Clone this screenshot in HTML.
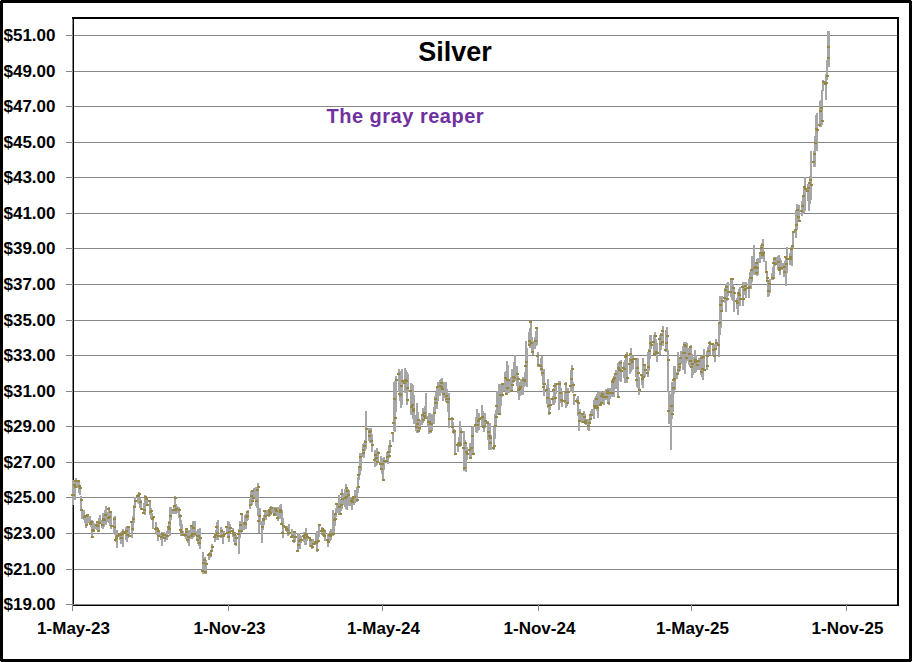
<!DOCTYPE html><html><head><meta charset="utf-8"><style>html,body{margin:0;padding:0;background:#fff;}svg{display:block;}text{font-family:"Liberation Sans",sans-serif;font-weight:bold;}</style></head><body>
<svg width="912" height="662" viewBox="0 0 912 662">
<rect x="0" y="0" width="912" height="662" fill="#fff"/>
<g shape-rendering="crispEdges" fill="#000">
<rect x="0" y="0" width="912" height="3"/><rect x="0" y="659" width="912" height="3"/><rect x="0" y="0" width="3" height="662"/><rect x="909" y="0" width="3" height="662"/>
</g>
<g shape-rendering="crispEdges" fill="#c4c4c4"><rect x="0" y="0" width="1" height="1"/><rect x="911" y="0" width="1" height="1"/><rect x="0" y="661" width="1" height="1"/><rect x="911" y="661" width="1" height="1"/></g>
<g shape-rendering="crispEdges" fill="#868686">
<rect x="66" y="569" width="831" height="1"/>
<rect x="66" y="533" width="831" height="1"/>
<rect x="66" y="497" width="831" height="1"/>
<rect x="66" y="462" width="831" height="1"/>
<rect x="66" y="426" width="831" height="1"/>
<rect x="66" y="391" width="831" height="1"/>
<rect x="66" y="355" width="831" height="1"/>
<rect x="66" y="320" width="831" height="1"/>
<rect x="66" y="284" width="831" height="1"/>
<rect x="66" y="248" width="831" height="1"/>
<rect x="66" y="213" width="831" height="1"/>
<rect x="66" y="177" width="831" height="1"/>
<rect x="66" y="142" width="831" height="1"/>
<rect x="66" y="106" width="831" height="1"/>
<rect x="66" y="71" width="831" height="1"/>
<rect x="66" y="35" width="831" height="1"/>
</g>
<g shape-rendering="crispEdges" fill="#000">
<rect x="72" y="17" width="827" height="2"/>
<rect x="897" y="17" width="2" height="589"/>
<rect x="73" y="17" width="1" height="589"/>
<rect x="72" y="605" width="827" height="1"/>
</g>
<g shape-rendering="crispEdges" fill="#868686">
<rect x="72" y="19" width="1" height="592"/>
<rect x="66" y="604" width="831" height="1"/>
<rect x="72" y="604" width="1" height="7"/>
<rect x="228" y="604" width="1" height="7"/>
<rect x="382" y="604" width="1" height="7"/>
<rect x="538" y="604" width="1" height="7"/>
<rect x="691" y="604" width="1" height="7"/>
<rect x="846" y="604" width="1" height="7"/>
</g>
<g fill="#a6a6a6" shape-rendering="crispEdges">
<rect x="72" y="480" width="2" height="25"/>
<rect x="72" y="486" width="2" height="11"/>
<rect x="73" y="483" width="2" height="15"/>
<rect x="74" y="481" width="2" height="19"/>
<rect x="75" y="478" width="2" height="10"/>
<rect x="77" y="480" width="2" height="8"/>
<rect x="78" y="480" width="2" height="13"/>
<rect x="79" y="487" width="2" height="8"/>
<rect x="80" y="496" width="2" height="15"/>
<rect x="81" y="509" width="2" height="10"/>
<rect x="83" y="510" width="2" height="10"/>
<rect x="84" y="516" width="2" height="7"/>
<rect x="85" y="517" width="2" height="11"/>
<rect x="86" y="514" width="2" height="12"/>
<rect x="87" y="515" width="2" height="8"/>
<rect x="89" y="516" width="2" height="8"/>
<rect x="90" y="520" width="2" height="7"/>
<rect x="91" y="520" width="2" height="18"/>
<rect x="92" y="521" width="2" height="10"/>
<rect x="93" y="523" width="2" height="9"/>
<rect x="95" y="524" width="2" height="5"/>
<rect x="96" y="523" width="2" height="7"/>
<rect x="97" y="521" width="2" height="8"/>
<rect x="98" y="518" width="2" height="14"/>
<rect x="99" y="515" width="2" height="9"/>
<rect x="101" y="520" width="2" height="8"/>
<rect x="102" y="513" width="2" height="16"/>
<rect x="103" y="514" width="2" height="13"/>
<rect x="104" y="510" width="2" height="12"/>
<rect x="105" y="506" width="2" height="19"/>
<rect x="107" y="512" width="2" height="10"/>
<rect x="108" y="507" width="2" height="16"/>
<rect x="109" y="514" width="2" height="12"/>
<rect x="110" y="511" width="2" height="17"/>
<rect x="110" y="516" width="2" height="13"/>
<rect x="113" y="517" width="2" height="17"/>
<rect x="114" y="516" width="2" height="19"/>
<rect x="115" y="531" width="2" height="11"/>
<rect x="116" y="535" width="2" height="13"/>
<rect x="116" y="530" width="2" height="14"/>
<rect x="119" y="533" width="2" height="7"/>
<rect x="120" y="532" width="2" height="12"/>
<rect x="121" y="531" width="2" height="9"/>
<rect x="122" y="530" width="2" height="14"/>
<rect x="122" y="529" width="2" height="18"/>
<rect x="125" y="527" width="2" height="13"/>
<rect x="126" y="526" width="2" height="16"/>
<rect x="127" y="526" width="2" height="10"/>
<rect x="127" y="526" width="2" height="12"/>
<rect x="128" y="528" width="2" height="8"/>
<rect x="131" y="521" width="2" height="17"/>
<rect x="132" y="516" width="2" height="15"/>
<rect x="133" y="511" width="2" height="12"/>
<rect x="133" y="505" width="2" height="10"/>
<rect x="134" y="497" width="2" height="9"/>
<rect x="137" y="494" width="2" height="9"/>
<rect x="138" y="494" width="2" height="10"/>
<rect x="138" y="492" width="2" height="12"/>
<rect x="139" y="498" width="2" height="10"/>
<rect x="140" y="500" width="2" height="9"/>
<rect x="143" y="503" width="2" height="10"/>
<rect x="144" y="495" width="2" height="16"/>
<rect x="144" y="495" width="2" height="20"/>
<rect x="145" y="496" width="2" height="10"/>
<rect x="146" y="497" width="2" height="9"/>
<rect x="149" y="500" width="2" height="8"/>
<rect x="149" y="503" width="2" height="12"/>
<rect x="150" y="508" width="2" height="11"/>
<rect x="151" y="513" width="2" height="6"/>
<rect x="152" y="517" width="2" height="12"/>
<rect x="155" y="522" width="2" height="9"/>
<rect x="155" y="525" width="2" height="8"/>
<rect x="156" y="529" width="2" height="6"/>
<rect x="157" y="531" width="2" height="10"/>
<rect x="158" y="531" width="2" height="6"/>
<rect x="160" y="533" width="2" height="7"/>
<rect x="161" y="532" width="2" height="14"/>
<rect x="162" y="532" width="2" height="7"/>
<rect x="163" y="532" width="2" height="6"/>
<rect x="164" y="533" width="2" height="9"/>
<rect x="166" y="531" width="2" height="9"/>
<rect x="167" y="526" width="2" height="7"/>
<rect x="168" y="521" width="2" height="10"/>
<rect x="169" y="507" width="2" height="29"/>
<rect x="170" y="507" width="2" height="13"/>
<rect x="172" y="509" width="2" height="5"/>
<rect x="173" y="505" width="2" height="9"/>
<rect x="174" y="496" width="2" height="18"/>
<rect x="175" y="504" width="2" height="10"/>
<rect x="176" y="506" width="2" height="7"/>
<rect x="178" y="507" width="2" height="11"/>
<rect x="179" y="514" width="2" height="12"/>
<rect x="180" y="520" width="2" height="16"/>
<rect x="181" y="524" width="2" height="12"/>
<rect x="182" y="531" width="2" height="5"/>
<rect x="184" y="533" width="2" height="4"/>
<rect x="185" y="530" width="2" height="9"/>
<rect x="186" y="528" width="2" height="12"/>
<rect x="187" y="533" width="2" height="10"/>
<rect x="188" y="530" width="2" height="16"/>
<rect x="190" y="526" width="2" height="13"/>
<rect x="191" y="525" width="2" height="14"/>
<rect x="192" y="521" width="2" height="17"/>
<rect x="193" y="523" width="2" height="14"/>
<rect x="194" y="521" width="2" height="15"/>
<rect x="196" y="531" width="2" height="10"/>
<rect x="197" y="529" width="2" height="15"/>
<rect x="198" y="536" width="2" height="10"/>
<rect x="199" y="533" width="2" height="11"/>
<rect x="199" y="528" width="2" height="21"/>
<rect x="202" y="552" width="2" height="22"/>
<rect x="203" y="558" width="2" height="16"/>
<rect x="204" y="557" width="2" height="17"/>
<rect x="205" y="561" width="2" height="13"/>
<rect x="205" y="560" width="2" height="10"/>
<rect x="208" y="553" width="2" height="7"/>
<rect x="209" y="552" width="2" height="6"/>
<rect x="210" y="553" width="2" height="4"/>
<rect x="210" y="551" width="2" height="5"/>
<rect x="211" y="544" width="2" height="6"/>
<rect x="214" y="533" width="2" height="9"/>
<rect x="215" y="530" width="2" height="10"/>
<rect x="216" y="526" width="2" height="10"/>
<rect x="216" y="522" width="2" height="16"/>
<rect x="217" y="520" width="2" height="20"/>
<rect x="220" y="527" width="2" height="11"/>
<rect x="221" y="529" width="2" height="7"/>
<rect x="221" y="531" width="2" height="7"/>
<rect x="222" y="531" width="2" height="13"/>
<rect x="223" y="531" width="2" height="4"/>
<rect x="226" y="527" width="2" height="7"/>
<rect x="227" y="524" width="2" height="11"/>
<rect x="227" y="521" width="2" height="16"/>
<rect x="228" y="522" width="2" height="20"/>
<rect x="229" y="524" width="2" height="8"/>
<rect x="232" y="529" width="2" height="5"/>
<rect x="232" y="528" width="2" height="9"/>
<rect x="233" y="535" width="2" height="7"/>
<rect x="234" y="532" width="2" height="12"/>
<rect x="235" y="535" width="2" height="11"/>
<rect x="238" y="530" width="2" height="22"/>
<rect x="238" y="529" width="2" height="25"/>
<rect x="239" y="521" width="2" height="17"/>
<rect x="240" y="522" width="2" height="11"/>
<rect x="241" y="513" width="2" height="19"/>
<rect x="243" y="522" width="2" height="8"/>
<rect x="244" y="515" width="2" height="13"/>
<rect x="245" y="514" width="2" height="15"/>
<rect x="246" y="512" width="2" height="9"/>
<rect x="247" y="510" width="2" height="10"/>
<rect x="249" y="499" width="2" height="10"/>
<rect x="250" y="491" width="2" height="10"/>
<rect x="251" y="492" width="2" height="13"/>
<rect x="252" y="490" width="2" height="11"/>
<rect x="253" y="488" width="2" height="11"/>
<rect x="255" y="487" width="2" height="19"/>
<rect x="256" y="489" width="2" height="19"/>
<rect x="257" y="483" width="2" height="33"/>
<rect x="258" y="509" width="2" height="24"/>
<rect x="259" y="508" width="2" height="17"/>
<rect x="261" y="521" width="2" height="22"/>
<rect x="262" y="518" width="2" height="12"/>
<rect x="263" y="515" width="2" height="10"/>
<rect x="264" y="510" width="2" height="10"/>
<rect x="265" y="510" width="2" height="10"/>
<rect x="267" y="510" width="2" height="5"/>
<rect x="268" y="509" width="2" height="8"/>
<rect x="269" y="507" width="2" height="9"/>
<rect x="270" y="506" width="2" height="9"/>
<rect x="271" y="507" width="2" height="6"/>
<rect x="273" y="507" width="2" height="9"/>
<rect x="274" y="507" width="2" height="8"/>
<rect x="275" y="507" width="2" height="6"/>
<rect x="276" y="507" width="2" height="9"/>
<rect x="277" y="507" width="2" height="14"/>
<rect x="279" y="505" width="2" height="14"/>
<rect x="280" y="504" width="2" height="15"/>
<rect x="281" y="510" width="2" height="15"/>
<rect x="282" y="518" width="2" height="20"/>
<rect x="282" y="521" width="2" height="15"/>
<rect x="285" y="526" width="2" height="5"/>
<rect x="286" y="527" width="2" height="5"/>
<rect x="287" y="526" width="2" height="10"/>
<rect x="288" y="525" width="2" height="9"/>
<rect x="288" y="524" width="2" height="11"/>
<rect x="291" y="529" width="2" height="9"/>
<rect x="292" y="531" width="2" height="7"/>
<rect x="293" y="531" width="2" height="12"/>
<rect x="293" y="532" width="2" height="6"/>
<rect x="294" y="532" width="2" height="10"/>
<rect x="297" y="533" width="2" height="19"/>
<rect x="298" y="533" width="2" height="13"/>
<rect x="299" y="539" width="2" height="10"/>
<rect x="299" y="535" width="2" height="11"/>
<rect x="300" y="536" width="2" height="7"/>
<rect x="303" y="532" width="2" height="10"/>
<rect x="304" y="532" width="2" height="11"/>
<rect x="304" y="533" width="2" height="12"/>
<rect x="305" y="528" width="2" height="17"/>
<rect x="306" y="534" width="2" height="7"/>
<rect x="309" y="538" width="2" height="9"/>
<rect x="310" y="539" width="2" height="4"/>
<rect x="310" y="539" width="2" height="8"/>
<rect x="311" y="539" width="2" height="10"/>
<rect x="312" y="539" width="2" height="6"/>
<rect x="315" y="537" width="2" height="8"/>
<rect x="315" y="534" width="2" height="11"/>
<rect x="316" y="531" width="2" height="21"/>
<rect x="317" y="531" width="2" height="12"/>
<rect x="318" y="525" width="2" height="12"/>
<rect x="321" y="527" width="2" height="7"/>
<rect x="321" y="528" width="2" height="7"/>
<rect x="322" y="528" width="2" height="8"/>
<rect x="323" y="529" width="2" height="8"/>
<rect x="324" y="530" width="2" height="11"/>
<rect x="327" y="533" width="2" height="8"/>
<rect x="327" y="534" width="2" height="13"/>
<rect x="328" y="533" width="2" height="7"/>
<rect x="329" y="531" width="2" height="10"/>
<rect x="330" y="529" width="2" height="11"/>
<rect x="332" y="510" width="2" height="26"/>
<rect x="333" y="514" width="2" height="19"/>
<rect x="334" y="516" width="2" height="10"/>
<rect x="335" y="508" width="2" height="9"/>
<rect x="336" y="503" width="2" height="10"/>
<rect x="338" y="495" width="2" height="20"/>
<rect x="339" y="499" width="2" height="16"/>
<rect x="340" y="499" width="2" height="12"/>
<rect x="341" y="489" width="2" height="20"/>
<rect x="342" y="493" width="2" height="12"/>
<rect x="344" y="489" width="2" height="18"/>
<rect x="345" y="484" width="2" height="25"/>
<rect x="346" y="496" width="2" height="14"/>
<rect x="347" y="489" width="2" height="14"/>
<rect x="348" y="490" width="2" height="16"/>
<rect x="350" y="497" width="2" height="9"/>
<rect x="351" y="499" width="2" height="11"/>
<rect x="352" y="497" width="2" height="6"/>
<rect x="353" y="496" width="2" height="9"/>
<rect x="354" y="490" width="2" height="13"/>
<rect x="356" y="487" width="2" height="15"/>
<rect x="357" y="477" width="2" height="16"/>
<rect x="358" y="468" width="2" height="12"/>
<rect x="359" y="453" width="2" height="22"/>
<rect x="360" y="453" width="2" height="18"/>
<rect x="362" y="444" width="2" height="13"/>
<rect x="363" y="443" width="2" height="15"/>
<rect x="364" y="440" width="2" height="11"/>
<rect x="365" y="434" width="2" height="13"/>
<rect x="365" y="411" width="2" height="38"/>
<rect x="368" y="428" width="2" height="13"/>
<rect x="369" y="434" width="2" height="9"/>
<rect x="370" y="428" width="2" height="13"/>
<rect x="371" y="434" width="2" height="14"/>
<rect x="371" y="441" width="2" height="11"/>
<rect x="374" y="450" width="2" height="17"/>
<rect x="375" y="454" width="2" height="12"/>
<rect x="376" y="454" width="2" height="11"/>
<rect x="376" y="448" width="2" height="16"/>
<rect x="377" y="451" width="2" height="11"/>
<rect x="380" y="456" width="2" height="14"/>
<rect x="381" y="463" width="2" height="11"/>
<rect x="382" y="459" width="2" height="18"/>
<rect x="382" y="458" width="2" height="22"/>
<rect x="383" y="457" width="2" height="13"/>
<rect x="386" y="452" width="2" height="11"/>
<rect x="387" y="456" width="2" height="8"/>
<rect x="387" y="451" width="2" height="10"/>
<rect x="388" y="445" width="2" height="13"/>
<rect x="389" y="440" width="2" height="13"/>
<rect x="392" y="432" width="2" height="10"/>
<rect x="393" y="417" width="2" height="14"/>
<rect x="393" y="382" width="2" height="38"/>
<rect x="394" y="381" width="2" height="51"/>
<rect x="395" y="376" width="2" height="36"/>
<rect x="398" y="369" width="2" height="23"/>
<rect x="399" y="371" width="2" height="24"/>
<rect x="399" y="381" width="2" height="20"/>
<rect x="400" y="382" width="2" height="26"/>
<rect x="401" y="369" width="2" height="36"/>
<rect x="404" y="377" width="2" height="16"/>
<rect x="404" y="368" width="2" height="18"/>
<rect x="405" y="370" width="2" height="18"/>
<rect x="406" y="372" width="2" height="33"/>
<rect x="407" y="374" width="2" height="18"/>
<rect x="410" y="383" width="2" height="16"/>
<rect x="410" y="385" width="2" height="30"/>
<rect x="411" y="384" width="2" height="28"/>
<rect x="412" y="385" width="2" height="34"/>
<rect x="413" y="395" width="2" height="29"/>
<rect x="415" y="415" width="2" height="16"/>
<rect x="416" y="403" width="2" height="30"/>
<rect x="417" y="412" width="2" height="21"/>
<rect x="418" y="419" width="2" height="10"/>
<rect x="419" y="420" width="2" height="10"/>
<rect x="421" y="415" width="2" height="10"/>
<rect x="422" y="408" width="2" height="15"/>
<rect x="423" y="409" width="2" height="12"/>
<rect x="424" y="406" width="2" height="13"/>
<rect x="425" y="393" width="2" height="26"/>
<rect x="427" y="416" width="2" height="11"/>
<rect x="428" y="413" width="2" height="21"/>
<rect x="429" y="413" width="2" height="14"/>
<rect x="430" y="415" width="2" height="18"/>
<rect x="431" y="414" width="2" height="17"/>
<rect x="433" y="407" width="2" height="17"/>
<rect x="434" y="396" width="2" height="16"/>
<rect x="435" y="392" width="2" height="15"/>
<rect x="436" y="388" width="2" height="21"/>
<rect x="437" y="382" width="2" height="19"/>
<rect x="439" y="380" width="2" height="16"/>
<rect x="440" y="379" width="2" height="14"/>
<rect x="441" y="378" width="2" height="14"/>
<rect x="442" y="383" width="2" height="18"/>
<rect x="443" y="382" width="2" height="16"/>
<rect x="445" y="382" width="2" height="20"/>
<rect x="446" y="389" width="2" height="13"/>
<rect x="447" y="394" width="2" height="18"/>
<rect x="448" y="393" width="2" height="35"/>
<rect x="448" y="415" width="2" height="13"/>
<rect x="451" y="417" width="2" height="11"/>
<rect x="452" y="422" width="2" height="9"/>
<rect x="453" y="429" width="2" height="5"/>
<rect x="454" y="431" width="2" height="9"/>
<rect x="454" y="437" width="2" height="18"/>
<rect x="457" y="442" width="2" height="10"/>
<rect x="458" y="437" width="2" height="10"/>
<rect x="459" y="421" width="2" height="26"/>
<rect x="460" y="428" width="2" height="18"/>
<rect x="460" y="429" width="2" height="14"/>
<rect x="463" y="431" width="2" height="40"/>
<rect x="464" y="440" width="2" height="31"/>
<rect x="465" y="443" width="2" height="25"/>
<rect x="465" y="451" width="2" height="21"/>
<rect x="466" y="447" width="2" height="13"/>
<rect x="469" y="443" width="2" height="15"/>
<rect x="470" y="443" width="2" height="16"/>
<rect x="471" y="437" width="2" height="14"/>
<rect x="471" y="427" width="2" height="17"/>
<rect x="472" y="426" width="2" height="28"/>
<rect x="475" y="417" width="2" height="15"/>
<rect x="476" y="416" width="2" height="17"/>
<rect x="476" y="409" width="2" height="24"/>
<rect x="477" y="415" width="2" height="16"/>
<rect x="478" y="413" width="2" height="17"/>
<rect x="481" y="405" width="2" height="21"/>
<rect x="482" y="411" width="2" height="16"/>
<rect x="482" y="416" width="2" height="11"/>
<rect x="483" y="413" width="2" height="19"/>
<rect x="484" y="413" width="2" height="15"/>
<rect x="487" y="421" width="2" height="15"/>
<rect x="487" y="427" width="2" height="13"/>
<rect x="488" y="427" width="2" height="23"/>
<rect x="489" y="423" width="2" height="27"/>
<rect x="490" y="435" width="2" height="15"/>
<rect x="493" y="437" width="2" height="13"/>
<rect x="493" y="427" width="2" height="20"/>
<rect x="494" y="414" width="2" height="25"/>
<rect x="495" y="410" width="2" height="17"/>
<rect x="496" y="391" width="2" height="24"/>
<rect x="498" y="384" width="2" height="30"/>
<rect x="499" y="384" width="2" height="30"/>
<rect x="500" y="384" width="2" height="22"/>
<rect x="501" y="384" width="2" height="13"/>
<rect x="502" y="383" width="2" height="8"/>
<rect x="504" y="372" width="2" height="19"/>
<rect x="505" y="371" width="2" height="23"/>
<rect x="506" y="361" width="2" height="33"/>
<rect x="507" y="365" width="2" height="28"/>
<rect x="508" y="379" width="2" height="14"/>
<rect x="510" y="377" width="2" height="15"/>
<rect x="511" y="369" width="2" height="23"/>
<rect x="512" y="372" width="2" height="11"/>
<rect x="513" y="362" width="2" height="15"/>
<rect x="514" y="355" width="2" height="26"/>
<rect x="516" y="366" width="2" height="20"/>
<rect x="517" y="376" width="2" height="17"/>
<rect x="518" y="385" width="2" height="15"/>
<rect x="519" y="382" width="2" height="14"/>
<rect x="520" y="379" width="2" height="16"/>
<rect x="522" y="377" width="2" height="18"/>
<rect x="523" y="379" width="2" height="8"/>
<rect x="524" y="372" width="2" height="14"/>
<rect x="525" y="341" width="2" height="41"/>
<rect x="526" y="348" width="2" height="39"/>
<rect x="528" y="332" width="2" height="13"/>
<rect x="529" y="328" width="2" height="20"/>
<rect x="530" y="321" width="2" height="27"/>
<rect x="531" y="337" width="2" height="16"/>
<rect x="532" y="341" width="2" height="14"/>
<rect x="534" y="337" width="2" height="12"/>
<rect x="535" y="331" width="2" height="15"/>
<rect x="536" y="328" width="2" height="17"/>
<rect x="537" y="352" width="2" height="15"/>
<rect x="537" y="355" width="2" height="12"/>
<rect x="540" y="358" width="2" height="13"/>
<rect x="541" y="356" width="2" height="20"/>
<rect x="542" y="371" width="2" height="14"/>
<rect x="543" y="381" width="2" height="13"/>
<rect x="543" y="369" width="2" height="27"/>
<rect x="546" y="385" width="2" height="19"/>
<rect x="547" y="379" width="2" height="29"/>
<rect x="548" y="397" width="2" height="18"/>
<rect x="548" y="388" width="2" height="25"/>
<rect x="549" y="398" width="2" height="12"/>
<rect x="552" y="396" width="2" height="9"/>
<rect x="553" y="388" width="2" height="17"/>
<rect x="554" y="383" width="2" height="20"/>
<rect x="554" y="383" width="2" height="20"/>
<rect x="555" y="383" width="2" height="11"/>
<rect x="558" y="381" width="2" height="29"/>
<rect x="559" y="381" width="2" height="19"/>
<rect x="559" y="385" width="2" height="15"/>
<rect x="560" y="388" width="2" height="15"/>
<rect x="561" y="391" width="2" height="16"/>
<rect x="564" y="392" width="2" height="11"/>
<rect x="565" y="382" width="2" height="26"/>
<rect x="565" y="392" width="2" height="16"/>
<rect x="566" y="392" width="2" height="14"/>
<rect x="567" y="388" width="2" height="14"/>
<rect x="570" y="370" width="2" height="22"/>
<rect x="570" y="372" width="2" height="20"/>
<rect x="571" y="365" width="2" height="26"/>
<rect x="572" y="382" width="2" height="11"/>
<rect x="573" y="394" width="2" height="11"/>
<rect x="576" y="398" width="2" height="3"/>
<rect x="576" y="398" width="2" height="5"/>
<rect x="577" y="396" width="2" height="20"/>
<rect x="578" y="413" width="2" height="18"/>
<rect x="579" y="409" width="2" height="11"/>
<rect x="581" y="414" width="2" height="9"/>
<rect x="582" y="415" width="2" height="7"/>
<rect x="583" y="411" width="2" height="10"/>
<rect x="584" y="414" width="2" height="9"/>
<rect x="585" y="419" width="2" height="6"/>
<rect x="587" y="419" width="2" height="11"/>
<rect x="588" y="420" width="2" height="11"/>
<rect x="589" y="415" width="2" height="7"/>
<rect x="590" y="411" width="2" height="9"/>
<rect x="591" y="409" width="2" height="7"/>
<rect x="593" y="400" width="2" height="19"/>
<rect x="594" y="398" width="2" height="11"/>
<rect x="595" y="396" width="2" height="12"/>
<rect x="596" y="394" width="2" height="17"/>
<rect x="597" y="392" width="2" height="26"/>
<rect x="599" y="391" width="2" height="15"/>
<rect x="600" y="391" width="2" height="9"/>
<rect x="601" y="392" width="2" height="11"/>
<rect x="602" y="392" width="2" height="7"/>
<rect x="603" y="391" width="2" height="14"/>
<rect x="605" y="389" width="2" height="11"/>
<rect x="606" y="389" width="2" height="10"/>
<rect x="607" y="388" width="2" height="15"/>
<rect x="608" y="388" width="2" height="17"/>
<rect x="609" y="388" width="2" height="11"/>
<rect x="611" y="380" width="2" height="17"/>
<rect x="612" y="378" width="2" height="17"/>
<rect x="613" y="376" width="2" height="21"/>
<rect x="614" y="373" width="2" height="13"/>
<rect x="615" y="370" width="2" height="19"/>
<rect x="617" y="363" width="2" height="35"/>
<rect x="618" y="362" width="2" height="19"/>
<rect x="619" y="361" width="2" height="16"/>
<rect x="620" y="360" width="2" height="22"/>
<rect x="620" y="360" width="2" height="20"/>
<rect x="623" y="362" width="2" height="16"/>
<rect x="624" y="360" width="2" height="23"/>
<rect x="625" y="356" width="2" height="15"/>
<rect x="626" y="352" width="2" height="29"/>
<rect x="626" y="356" width="2" height="27"/>
<rect x="629" y="358" width="2" height="16"/>
<rect x="630" y="348" width="2" height="24"/>
<rect x="631" y="358" width="2" height="12"/>
<rect x="631" y="359" width="2" height="10"/>
<rect x="632" y="356" width="2" height="13"/>
<rect x="635" y="358" width="2" height="19"/>
<rect x="636" y="367" width="2" height="20"/>
<rect x="637" y="358" width="2" height="30"/>
<rect x="637" y="371" width="2" height="13"/>
<rect x="638" y="377" width="2" height="18"/>
<rect x="641" y="374" width="2" height="11"/>
<rect x="642" y="376" width="2" height="12"/>
<rect x="642" y="358" width="2" height="23"/>
<rect x="643" y="364" width="2" height="13"/>
<rect x="644" y="365" width="2" height="12"/>
<rect x="647" y="352" width="2" height="25"/>
<rect x="648" y="353" width="2" height="18"/>
<rect x="648" y="349" width="2" height="15"/>
<rect x="649" y="335" width="2" height="24"/>
<rect x="650" y="335" width="2" height="14"/>
<rect x="653" y="335" width="2" height="19"/>
<rect x="653" y="337" width="2" height="18"/>
<rect x="654" y="332" width="2" height="19"/>
<rect x="655" y="339" width="2" height="13"/>
<rect x="656" y="343" width="2" height="19"/>
<rect x="659" y="337" width="2" height="10"/>
<rect x="659" y="335" width="2" height="20"/>
<rect x="660" y="333" width="2" height="17"/>
<rect x="661" y="335" width="2" height="10"/>
<rect x="662" y="326" width="2" height="20"/>
<rect x="665" y="330" width="2" height="22"/>
<rect x="665" y="333" width="2" height="17"/>
<rect x="666" y="327" width="2" height="25"/>
<rect x="667" y="350" width="2" height="42"/>
<rect x="668" y="392" width="2" height="32"/>
<rect x="670" y="394" width="2" height="56"/>
<rect x="671" y="382" width="2" height="37"/>
<rect x="672" y="385" width="2" height="27"/>
<rect x="673" y="366" width="2" height="28"/>
<rect x="674" y="366" width="2" height="24"/>
<rect x="676" y="372" width="2" height="7"/>
<rect x="677" y="352" width="2" height="23"/>
<rect x="678" y="359" width="2" height="13"/>
<rect x="679" y="359" width="2" height="12"/>
<rect x="680" y="351" width="2" height="13"/>
<rect x="682" y="346" width="2" height="24"/>
<rect x="683" y="342" width="2" height="27"/>
<rect x="684" y="342" width="2" height="32"/>
<rect x="685" y="342" width="2" height="21"/>
<rect x="686" y="343" width="2" height="18"/>
<rect x="688" y="348" width="2" height="17"/>
<rect x="689" y="348" width="2" height="19"/>
<rect x="690" y="345" width="2" height="23"/>
<rect x="691" y="354" width="2" height="24"/>
<rect x="692" y="357" width="2" height="18"/>
<rect x="694" y="350" width="2" height="23"/>
<rect x="695" y="355" width="2" height="17"/>
<rect x="696" y="360" width="2" height="10"/>
<rect x="697" y="362" width="2" height="8"/>
<rect x="698" y="358" width="2" height="12"/>
<rect x="700" y="356" width="2" height="19"/>
<rect x="701" y="358" width="2" height="19"/>
<rect x="702" y="364" width="2" height="16"/>
<rect x="703" y="349" width="2" height="19"/>
<rect x="703" y="354" width="2" height="17"/>
<rect x="706" y="351" width="2" height="19"/>
<rect x="707" y="347" width="2" height="10"/>
<rect x="708" y="345" width="2" height="7"/>
<rect x="709" y="341" width="2" height="14"/>
<rect x="709" y="341" width="2" height="10"/>
<rect x="712" y="343" width="2" height="12"/>
<rect x="713" y="344" width="2" height="9"/>
<rect x="714" y="345" width="2" height="17"/>
<rect x="714" y="344" width="2" height="15"/>
<rect x="715" y="339" width="2" height="11"/>
<rect x="718" y="322" width="2" height="35"/>
<rect x="719" y="296" width="2" height="39"/>
<rect x="720" y="298" width="2" height="30"/>
<rect x="720" y="296" width="2" height="18"/>
<rect x="721" y="296" width="2" height="15"/>
<rect x="724" y="288" width="2" height="15"/>
<rect x="725" y="285" width="2" height="27"/>
<rect x="725" y="284" width="2" height="28"/>
<rect x="726" y="283" width="2" height="18"/>
<rect x="727" y="282" width="2" height="14"/>
<rect x="730" y="279" width="2" height="18"/>
<rect x="731" y="278" width="2" height="22"/>
<rect x="731" y="278" width="2" height="20"/>
<rect x="732" y="285" width="2" height="16"/>
<rect x="733" y="289" width="2" height="23"/>
<rect x="736" y="298" width="2" height="11"/>
<rect x="737" y="296" width="2" height="19"/>
<rect x="737" y="292" width="2" height="18"/>
<rect x="738" y="289" width="2" height="17"/>
<rect x="739" y="287" width="2" height="19"/>
<rect x="742" y="283" width="2" height="23"/>
<rect x="742" y="282" width="2" height="20"/>
<rect x="743" y="283" width="2" height="12"/>
<rect x="744" y="282" width="2" height="10"/>
<rect x="745" y="282" width="2" height="16"/>
<rect x="748" y="281" width="2" height="17"/>
<rect x="748" y="279" width="2" height="11"/>
<rect x="749" y="272" width="2" height="16"/>
<rect x="750" y="270" width="2" height="19"/>
<rect x="751" y="256" width="2" height="26"/>
<rect x="753" y="245" width="2" height="30"/>
<rect x="754" y="264" width="2" height="11"/>
<rect x="755" y="262" width="2" height="13"/>
<rect x="756" y="259" width="2" height="17"/>
<rect x="757" y="258" width="2" height="17"/>
<rect x="759" y="253" width="2" height="10"/>
<rect x="760" y="245" width="2" height="14"/>
<rect x="761" y="243" width="2" height="13"/>
<rect x="762" y="239" width="2" height="20"/>
<rect x="763" y="251" width="2" height="11"/>
<rect x="765" y="261" width="2" height="12"/>
<rect x="766" y="271" width="2" height="9"/>
<rect x="767" y="280" width="2" height="17"/>
<rect x="768" y="280" width="2" height="16"/>
<rect x="769" y="279" width="2" height="14"/>
<rect x="771" y="273" width="2" height="7"/>
<rect x="772" y="267" width="2" height="13"/>
<rect x="773" y="257" width="2" height="21"/>
<rect x="774" y="259" width="2" height="7"/>
<rect x="775" y="257" width="2" height="8"/>
<rect x="777" y="256" width="2" height="14"/>
<rect x="778" y="255" width="2" height="14"/>
<rect x="779" y="258" width="2" height="17"/>
<rect x="780" y="260" width="2" height="10"/>
<rect x="781" y="263" width="2" height="7"/>
<rect x="783" y="263" width="2" height="14"/>
<rect x="784" y="261" width="2" height="13"/>
<rect x="785" y="256" width="2" height="30"/>
<rect x="786" y="247" width="2" height="24"/>
<rect x="786" y="249" width="2" height="24"/>
<rect x="789" y="253" width="2" height="12"/>
<rect x="790" y="247" width="2" height="10"/>
<rect x="791" y="246" width="2" height="20"/>
<rect x="792" y="235" width="2" height="14"/>
<rect x="792" y="231" width="2" height="18"/>
<rect x="795" y="210" width="2" height="28"/>
<rect x="796" y="204" width="2" height="26"/>
<rect x="797" y="206" width="2" height="16"/>
<rect x="797" y="211" width="2" height="11"/>
<rect x="798" y="205" width="2" height="17"/>
<rect x="801" y="201" width="2" height="15"/>
<rect x="802" y="197" width="2" height="17"/>
<rect x="803" y="190" width="2" height="23"/>
<rect x="803" y="186" width="2" height="25"/>
<rect x="804" y="177" width="2" height="34"/>
<rect x="807" y="184" width="2" height="17"/>
<rect x="808" y="182" width="2" height="29"/>
<rect x="809" y="176" width="2" height="23"/>
<rect x="809" y="176" width="2" height="28"/>
<rect x="810" y="151" width="2" height="49"/>
<rect x="813" y="151" width="2" height="16"/>
<rect x="814" y="151" width="2" height="14"/>
<rect x="814" y="136" width="2" height="31"/>
<rect x="815" y="115" width="2" height="28"/>
<rect x="816" y="113" width="2" height="38"/>
<rect x="819" y="101" width="2" height="26"/>
<rect x="820" y="102" width="2" height="25"/>
<rect x="820" y="100" width="2" height="26"/>
<rect x="821" y="90" width="2" height="35"/>
<rect x="822" y="80" width="2" height="11"/>
<rect x="825" y="74" width="2" height="17"/>
<rect x="825" y="74" width="2" height="26"/>
<rect x="826" y="60" width="2" height="20"/>
<rect x="827" y="31" width="2" height="29"/>
<rect x="828" y="31" width="2" height="36"/>
</g>
<g fill="#968843" shape-rendering="crispEdges">
<rect x="71" y="494" width="3" height="2"/>
<rect x="72" y="494" width="3" height="2"/>
<rect x="73" y="484" width="3" height="2"/>
<rect x="74" y="486" width="3" height="2"/>
<rect x="74" y="480" width="3" height="2"/>
<rect x="77" y="480" width="3" height="2"/>
<rect x="78" y="485" width="3" height="2"/>
<rect x="79" y="487" width="3" height="2"/>
<rect x="80" y="499" width="3" height="2"/>
<rect x="80" y="509" width="3" height="2"/>
<rect x="83" y="516" width="3" height="2"/>
<rect x="84" y="515" width="3" height="2"/>
<rect x="85" y="524" width="3" height="2"/>
<rect x="85" y="515" width="3" height="2"/>
<rect x="86" y="514" width="3" height="2"/>
<rect x="89" y="523" width="3" height="2"/>
<rect x="90" y="521" width="3" height="2"/>
<rect x="91" y="536" width="3" height="2"/>
<rect x="91" y="529" width="3" height="2"/>
<rect x="92" y="530" width="3" height="2"/>
<rect x="95" y="524" width="3" height="2"/>
<rect x="96" y="525" width="3" height="2"/>
<rect x="96" y="521" width="3" height="2"/>
<rect x="97" y="530" width="3" height="2"/>
<rect x="98" y="522" width="3" height="2"/>
<rect x="101" y="524" width="3" height="2"/>
<rect x="102" y="519" width="3" height="2"/>
<rect x="102" y="518" width="3" height="2"/>
<rect x="103" y="519" width="3" height="2"/>
<rect x="104" y="514" width="3" height="2"/>
<rect x="107" y="517" width="3" height="2"/>
<rect x="107" y="508" width="3" height="2"/>
<rect x="108" y="516" width="3" height="2"/>
<rect x="109" y="511" width="3" height="2"/>
<rect x="110" y="525" width="3" height="2"/>
<rect x="113" y="526" width="3" height="2"/>
<rect x="113" y="518" width="3" height="2"/>
<rect x="114" y="539" width="3" height="2"/>
<rect x="115" y="537" width="3" height="2"/>
<rect x="116" y="535" width="3" height="2"/>
<rect x="118" y="533" width="3" height="2"/>
<rect x="119" y="534" width="3" height="2"/>
<rect x="120" y="537" width="3" height="2"/>
<rect x="121" y="533" width="3" height="2"/>
<rect x="122" y="531" width="3" height="2"/>
<rect x="124" y="532" width="3" height="2"/>
<rect x="125" y="530" width="3" height="2"/>
<rect x="126" y="534" width="3" height="2"/>
<rect x="127" y="526" width="3" height="2"/>
<rect x="128" y="535" width="3" height="2"/>
<rect x="130" y="521" width="3" height="2"/>
<rect x="131" y="528" width="3" height="2"/>
<rect x="132" y="518" width="3" height="2"/>
<rect x="133" y="506" width="3" height="2"/>
<rect x="134" y="500" width="3" height="2"/>
<rect x="136" y="495" width="3" height="2"/>
<rect x="137" y="495" width="3" height="2"/>
<rect x="138" y="493" width="3" height="2"/>
<rect x="139" y="501" width="3" height="2"/>
<rect x="140" y="508" width="3" height="2"/>
<rect x="142" y="512" width="3" height="2"/>
<rect x="143" y="509" width="3" height="2"/>
<rect x="144" y="496" width="3" height="2"/>
<rect x="145" y="498" width="3" height="2"/>
<rect x="146" y="504" width="3" height="2"/>
<rect x="148" y="500" width="3" height="2"/>
<rect x="149" y="511" width="3" height="2"/>
<rect x="150" y="510" width="3" height="2"/>
<rect x="151" y="518" width="3" height="2"/>
<rect x="152" y="516" width="3" height="2"/>
<rect x="154" y="528" width="3" height="2"/>
<rect x="155" y="527" width="3" height="2"/>
<rect x="156" y="528" width="3" height="2"/>
<rect x="157" y="530" width="3" height="2"/>
<rect x="157" y="535" width="3" height="2"/>
<rect x="160" y="536" width="3" height="2"/>
<rect x="161" y="533" width="3" height="2"/>
<rect x="162" y="534" width="3" height="2"/>
<rect x="163" y="537" width="3" height="2"/>
<rect x="163" y="534" width="3" height="2"/>
<rect x="166" y="535" width="3" height="2"/>
<rect x="167" y="526" width="3" height="2"/>
<rect x="168" y="522" width="3" height="2"/>
<rect x="168" y="528" width="3" height="2"/>
<rect x="169" y="515" width="3" height="2"/>
<rect x="172" y="509" width="3" height="2"/>
<rect x="173" y="505" width="3" height="2"/>
<rect x="174" y="497" width="3" height="2"/>
<rect x="174" y="509" width="3" height="2"/>
<rect x="175" y="508" width="3" height="2"/>
<rect x="178" y="509" width="3" height="2"/>
<rect x="179" y="515" width="3" height="2"/>
<rect x="179" y="529" width="3" height="2"/>
<rect x="180" y="531" width="3" height="2"/>
<rect x="181" y="534" width="3" height="2"/>
<rect x="184" y="534" width="3" height="2"/>
<rect x="185" y="531" width="3" height="2"/>
<rect x="185" y="528" width="3" height="2"/>
<rect x="186" y="539" width="3" height="2"/>
<rect x="187" y="536" width="3" height="2"/>
<rect x="190" y="535" width="3" height="2"/>
<rect x="190" y="525" width="3" height="2"/>
<rect x="191" y="533" width="3" height="2"/>
<rect x="192" y="527" width="3" height="2"/>
<rect x="193" y="533" width="3" height="2"/>
<rect x="196" y="539" width="3" height="2"/>
<rect x="196" y="535" width="3" height="2"/>
<rect x="197" y="535" width="3" height="2"/>
<rect x="198" y="542" width="3" height="2"/>
<rect x="199" y="537" width="3" height="2"/>
<rect x="201" y="570" width="3" height="2"/>
<rect x="202" y="562" width="3" height="2"/>
<rect x="203" y="559" width="3" height="2"/>
<rect x="204" y="571" width="3" height="2"/>
<rect x="205" y="563" width="3" height="2"/>
<rect x="207" y="554" width="3" height="2"/>
<rect x="208" y="553" width="3" height="2"/>
<rect x="209" y="554" width="3" height="2"/>
<rect x="210" y="550" width="3" height="2"/>
<rect x="211" y="546" width="3" height="2"/>
<rect x="213" y="536" width="3" height="2"/>
<rect x="214" y="534" width="3" height="2"/>
<rect x="215" y="526" width="3" height="2"/>
<rect x="216" y="532" width="3" height="2"/>
<rect x="217" y="535" width="3" height="2"/>
<rect x="219" y="535" width="3" height="2"/>
<rect x="220" y="530" width="3" height="2"/>
<rect x="221" y="535" width="3" height="2"/>
<rect x="222" y="535" width="3" height="2"/>
<rect x="223" y="533" width="3" height="2"/>
<rect x="225" y="526" width="3" height="2"/>
<rect x="226" y="532" width="3" height="2"/>
<rect x="227" y="536" width="3" height="2"/>
<rect x="228" y="531" width="3" height="2"/>
<rect x="229" y="527" width="3" height="2"/>
<rect x="231" y="530" width="3" height="2"/>
<rect x="232" y="532" width="3" height="2"/>
<rect x="233" y="534" width="3" height="2"/>
<rect x="234" y="543" width="3" height="2"/>
<rect x="235" y="537" width="3" height="2"/>
<rect x="237" y="533" width="3" height="2"/>
<rect x="238" y="530" width="3" height="2"/>
<rect x="239" y="524" width="3" height="2"/>
<rect x="240" y="530" width="3" height="2"/>
<rect x="240" y="513" width="3" height="2"/>
<rect x="243" y="522" width="3" height="2"/>
<rect x="244" y="523" width="3" height="2"/>
<rect x="245" y="516" width="3" height="2"/>
<rect x="246" y="511" width="3" height="2"/>
<rect x="246" y="515" width="3" height="2"/>
<rect x="249" y="504" width="3" height="2"/>
<rect x="250" y="495" width="3" height="2"/>
<rect x="251" y="500" width="3" height="2"/>
<rect x="251" y="490" width="3" height="2"/>
<rect x="252" y="497" width="3" height="2"/>
<rect x="255" y="500" width="3" height="2"/>
<rect x="256" y="489" width="3" height="2"/>
<rect x="257" y="486" width="3" height="2"/>
<rect x="257" y="520" width="3" height="2"/>
<rect x="258" y="515" width="3" height="2"/>
<rect x="261" y="526" width="3" height="2"/>
<rect x="262" y="519" width="3" height="2"/>
<rect x="262" y="518" width="3" height="2"/>
<rect x="263" y="510" width="3" height="2"/>
<rect x="264" y="515" width="3" height="2"/>
<rect x="267" y="514" width="3" height="2"/>
<rect x="268" y="509" width="3" height="2"/>
<rect x="268" y="511" width="3" height="2"/>
<rect x="269" y="512" width="3" height="2"/>
<rect x="270" y="507" width="3" height="2"/>
<rect x="273" y="513" width="3" height="2"/>
<rect x="273" y="514" width="3" height="2"/>
<rect x="274" y="508" width="3" height="2"/>
<rect x="275" y="510" width="3" height="2"/>
<rect x="276" y="517" width="3" height="2"/>
<rect x="279" y="511" width="3" height="2"/>
<rect x="279" y="509" width="3" height="2"/>
<rect x="280" y="523" width="3" height="2"/>
<rect x="281" y="532" width="3" height="2"/>
<rect x="282" y="525" width="3" height="2"/>
<rect x="284" y="526" width="3" height="2"/>
<rect x="285" y="528" width="3" height="2"/>
<rect x="286" y="529" width="3" height="2"/>
<rect x="287" y="532" width="3" height="2"/>
<rect x="288" y="532" width="3" height="2"/>
<rect x="290" y="536" width="3" height="2"/>
<rect x="291" y="535" width="3" height="2"/>
<rect x="292" y="540" width="3" height="2"/>
<rect x="293" y="531" width="3" height="2"/>
<rect x="294" y="536" width="3" height="2"/>
<rect x="296" y="550" width="3" height="2"/>
<rect x="297" y="544" width="3" height="2"/>
<rect x="298" y="540" width="3" height="2"/>
<rect x="299" y="539" width="3" height="2"/>
<rect x="300" y="539" width="3" height="2"/>
<rect x="302" y="535" width="3" height="2"/>
<rect x="303" y="537" width="3" height="2"/>
<rect x="304" y="533" width="3" height="2"/>
<rect x="305" y="534" width="3" height="2"/>
<rect x="306" y="536" width="3" height="2"/>
<rect x="308" y="537" width="3" height="2"/>
<rect x="309" y="539" width="3" height="2"/>
<rect x="310" y="545" width="3" height="2"/>
<rect x="311" y="546" width="3" height="2"/>
<rect x="312" y="543" width="3" height="2"/>
<rect x="314" y="541" width="3" height="2"/>
<rect x="315" y="542" width="3" height="2"/>
<rect x="316" y="549" width="3" height="2"/>
<rect x="317" y="540" width="3" height="2"/>
<rect x="318" y="524" width="3" height="2"/>
<rect x="320" y="530" width="3" height="2"/>
<rect x="321" y="528" width="3" height="2"/>
<rect x="322" y="533" width="3" height="2"/>
<rect x="323" y="530" width="3" height="2"/>
<rect x="323" y="535" width="3" height="2"/>
<rect x="326" y="539" width="3" height="2"/>
<rect x="327" y="541" width="3" height="2"/>
<rect x="328" y="534" width="3" height="2"/>
<rect x="329" y="535" width="3" height="2"/>
<rect x="329" y="533" width="3" height="2"/>
<rect x="332" y="533" width="3" height="2"/>
<rect x="333" y="519" width="3" height="2"/>
<rect x="334" y="518" width="3" height="2"/>
<rect x="334" y="513" width="3" height="2"/>
<rect x="335" y="503" width="3" height="2"/>
<rect x="338" y="506" width="3" height="2"/>
<rect x="339" y="513" width="3" height="2"/>
<rect x="340" y="504" width="3" height="2"/>
<rect x="340" y="493" width="3" height="2"/>
<rect x="341" y="498" width="3" height="2"/>
<rect x="344" y="497" width="3" height="2"/>
<rect x="345" y="487" width="3" height="2"/>
<rect x="345" y="496" width="3" height="2"/>
<rect x="346" y="490" width="3" height="2"/>
<rect x="347" y="494" width="3" height="2"/>
<rect x="350" y="500" width="3" height="2"/>
<rect x="351" y="501" width="3" height="2"/>
<rect x="351" y="498" width="3" height="2"/>
<rect x="352" y="496" width="3" height="2"/>
<rect x="353" y="496" width="3" height="2"/>
<rect x="356" y="499" width="3" height="2"/>
<rect x="357" y="486" width="3" height="2"/>
<rect x="357" y="474" width="3" height="2"/>
<rect x="358" y="466" width="3" height="2"/>
<rect x="359" y="456" width="3" height="2"/>
<rect x="362" y="452" width="3" height="2"/>
<rect x="362" y="449" width="3" height="2"/>
<rect x="363" y="445" width="3" height="2"/>
<rect x="364" y="441" width="3" height="2"/>
<rect x="365" y="428" width="3" height="2"/>
<rect x="368" y="431" width="3" height="2"/>
<rect x="368" y="435" width="3" height="2"/>
<rect x="369" y="430" width="3" height="2"/>
<rect x="370" y="440" width="3" height="2"/>
<rect x="371" y="444" width="3" height="2"/>
<rect x="373" y="459" width="3" height="2"/>
<rect x="374" y="454" width="3" height="2"/>
<rect x="375" y="457" width="3" height="2"/>
<rect x="376" y="461" width="3" height="2"/>
<rect x="377" y="452" width="3" height="2"/>
<rect x="379" y="463" width="3" height="2"/>
<rect x="380" y="468" width="3" height="2"/>
<rect x="381" y="463" width="3" height="2"/>
<rect x="382" y="479" width="3" height="2"/>
<rect x="383" y="460" width="3" height="2"/>
<rect x="385" y="460" width="3" height="2"/>
<rect x="386" y="456" width="3" height="2"/>
<rect x="387" y="451" width="3" height="2"/>
<rect x="388" y="455" width="3" height="2"/>
<rect x="389" y="445" width="3" height="2"/>
<rect x="391" y="432" width="3" height="2"/>
<rect x="392" y="422" width="3" height="2"/>
<rect x="393" y="398" width="3" height="2"/>
<rect x="394" y="417" width="3" height="2"/>
<rect x="395" y="379" width="3" height="2"/>
<rect x="397" y="373" width="3" height="2"/>
<rect x="398" y="393" width="3" height="2"/>
<rect x="399" y="394" width="3" height="2"/>
<rect x="400" y="385" width="3" height="2"/>
<rect x="401" y="380" width="3" height="2"/>
<rect x="403" y="382" width="3" height="2"/>
<rect x="404" y="379" width="3" height="2"/>
<rect x="405" y="380" width="3" height="2"/>
<rect x="406" y="399" width="3" height="2"/>
<rect x="406" y="387" width="3" height="2"/>
<rect x="409" y="390" width="3" height="2"/>
<rect x="410" y="406" width="3" height="2"/>
<rect x="411" y="404" width="3" height="2"/>
<rect x="412" y="410" width="3" height="2"/>
<rect x="412" y="408" width="3" height="2"/>
<rect x="415" y="426" width="3" height="2"/>
<rect x="416" y="423" width="3" height="2"/>
<rect x="417" y="430" width="3" height="2"/>
<rect x="417" y="419" width="3" height="2"/>
<rect x="418" y="427" width="3" height="2"/>
<rect x="421" y="414" width="3" height="2"/>
<rect x="422" y="419" width="3" height="2"/>
<rect x="423" y="415" width="3" height="2"/>
<rect x="423" y="412" width="3" height="2"/>
<rect x="424" y="417" width="3" height="2"/>
<rect x="427" y="421" width="3" height="2"/>
<rect x="428" y="421" width="3" height="2"/>
<rect x="429" y="423" width="3" height="2"/>
<rect x="429" y="430" width="3" height="2"/>
<rect x="430" y="423" width="3" height="2"/>
<rect x="433" y="412" width="3" height="2"/>
<rect x="434" y="402" width="3" height="2"/>
<rect x="434" y="398" width="3" height="2"/>
<rect x="435" y="402" width="3" height="2"/>
<rect x="436" y="386" width="3" height="2"/>
<rect x="439" y="385" width="3" height="2"/>
<rect x="440" y="386" width="3" height="2"/>
<rect x="440" y="382" width="3" height="2"/>
<rect x="441" y="388" width="3" height="2"/>
<rect x="442" y="393" width="3" height="2"/>
<rect x="445" y="398" width="3" height="2"/>
<rect x="445" y="395" width="3" height="2"/>
<rect x="446" y="401" width="3" height="2"/>
<rect x="447" y="398" width="3" height="2"/>
<rect x="448" y="418" width="3" height="2"/>
<rect x="451" y="418" width="3" height="2"/>
<rect x="451" y="426" width="3" height="2"/>
<rect x="452" y="431" width="3" height="2"/>
<rect x="453" y="430" width="3" height="2"/>
<rect x="454" y="453" width="3" height="2"/>
<rect x="456" y="444" width="3" height="2"/>
<rect x="457" y="444" width="3" height="2"/>
<rect x="458" y="442" width="3" height="2"/>
<rect x="459" y="444" width="3" height="2"/>
<rect x="460" y="431" width="3" height="2"/>
<rect x="462" y="447" width="3" height="2"/>
<rect x="463" y="467" width="3" height="2"/>
<rect x="464" y="442" width="3" height="2"/>
<rect x="465" y="451" width="3" height="2"/>
<rect x="466" y="453" width="3" height="2"/>
<rect x="468" y="449" width="3" height="2"/>
<rect x="469" y="457" width="3" height="2"/>
<rect x="470" y="447" width="3" height="2"/>
<rect x="471" y="435" width="3" height="2"/>
<rect x="472" y="453" width="3" height="2"/>
<rect x="474" y="424" width="3" height="2"/>
<rect x="475" y="424" width="3" height="2"/>
<rect x="476" y="424" width="3" height="2"/>
<rect x="477" y="420" width="3" height="2"/>
<rect x="478" y="418" width="3" height="2"/>
<rect x="480" y="417" width="3" height="2"/>
<rect x="481" y="416" width="3" height="2"/>
<rect x="482" y="426" width="3" height="2"/>
<rect x="483" y="425" width="3" height="2"/>
<rect x="484" y="420" width="3" height="2"/>
<rect x="486" y="422" width="3" height="2"/>
<rect x="487" y="431" width="3" height="2"/>
<rect x="488" y="435" width="3" height="2"/>
<rect x="489" y="437" width="3" height="2"/>
<rect x="489" y="442" width="3" height="2"/>
<rect x="492" y="447" width="3" height="2"/>
<rect x="493" y="445" width="3" height="2"/>
<rect x="494" y="425" width="3" height="2"/>
<rect x="495" y="416" width="3" height="2"/>
<rect x="495" y="405" width="3" height="2"/>
<rect x="498" y="413" width="3" height="2"/>
<rect x="499" y="394" width="3" height="2"/>
<rect x="500" y="394" width="3" height="2"/>
<rect x="501" y="394" width="3" height="2"/>
<rect x="501" y="383" width="3" height="2"/>
<rect x="504" y="377" width="3" height="2"/>
<rect x="505" y="393" width="3" height="2"/>
<rect x="506" y="387" width="3" height="2"/>
<rect x="506" y="379" width="3" height="2"/>
<rect x="507" y="379" width="3" height="2"/>
<rect x="510" y="390" width="3" height="2"/>
<rect x="511" y="384" width="3" height="2"/>
<rect x="512" y="380" width="3" height="2"/>
<rect x="512" y="376" width="3" height="2"/>
<rect x="513" y="377" width="3" height="2"/>
<rect x="516" y="373" width="3" height="2"/>
<rect x="517" y="378" width="3" height="2"/>
<rect x="517" y="389" width="3" height="2"/>
<rect x="518" y="388" width="3" height="2"/>
<rect x="519" y="386" width="3" height="2"/>
<rect x="522" y="379" width="3" height="2"/>
<rect x="523" y="379" width="3" height="2"/>
<rect x="523" y="380" width="3" height="2"/>
<rect x="524" y="365" width="3" height="2"/>
<rect x="525" y="361" width="3" height="2"/>
<rect x="528" y="344" width="3" height="2"/>
<rect x="528" y="340" width="3" height="2"/>
<rect x="529" y="321" width="3" height="2"/>
<rect x="530" y="342" width="3" height="2"/>
<rect x="531" y="351" width="3" height="2"/>
<rect x="534" y="340" width="3" height="2"/>
<rect x="534" y="340" width="3" height="2"/>
<rect x="535" y="327" width="3" height="2"/>
<rect x="536" y="355" width="3" height="2"/>
<rect x="537" y="364" width="3" height="2"/>
<rect x="539" y="365" width="3" height="2"/>
<rect x="540" y="368" width="3" height="2"/>
<rect x="541" y="372" width="3" height="2"/>
<rect x="542" y="386" width="3" height="2"/>
<rect x="543" y="383" width="3" height="2"/>
<rect x="545" y="389" width="3" height="2"/>
<rect x="546" y="397" width="3" height="2"/>
<rect x="547" y="405" width="3" height="2"/>
<rect x="548" y="412" width="3" height="2"/>
<rect x="549" y="404" width="3" height="2"/>
<rect x="551" y="398" width="3" height="2"/>
<rect x="552" y="389" width="3" height="2"/>
<rect x="553" y="385" width="3" height="2"/>
<rect x="554" y="397" width="3" height="2"/>
<rect x="555" y="383" width="3" height="2"/>
<rect x="557" y="383" width="3" height="2"/>
<rect x="558" y="383" width="3" height="2"/>
<rect x="559" y="392" width="3" height="2"/>
<rect x="560" y="399" width="3" height="2"/>
<rect x="561" y="400" width="3" height="2"/>
<rect x="563" y="400" width="3" height="2"/>
<rect x="564" y="383" width="3" height="2"/>
<rect x="565" y="391" width="3" height="2"/>
<rect x="566" y="402" width="3" height="2"/>
<rect x="567" y="391" width="3" height="2"/>
<rect x="569" y="385" width="3" height="2"/>
<rect x="570" y="378" width="3" height="2"/>
<rect x="571" y="368" width="3" height="2"/>
<rect x="572" y="384" width="3" height="2"/>
<rect x="573" y="394" width="3" height="2"/>
<rect x="575" y="400" width="3" height="2"/>
<rect x="576" y="400" width="3" height="2"/>
<rect x="577" y="402" width="3" height="2"/>
<rect x="578" y="420" width="3" height="2"/>
<rect x="578" y="412" width="3" height="2"/>
<rect x="581" y="413" width="3" height="2"/>
<rect x="582" y="421" width="3" height="2"/>
<rect x="583" y="416" width="3" height="2"/>
<rect x="584" y="422" width="3" height="2"/>
<rect x="584" y="420" width="3" height="2"/>
<rect x="587" y="425" width="3" height="2"/>
<rect x="588" y="422" width="3" height="2"/>
<rect x="589" y="414" width="3" height="2"/>
<rect x="589" y="418" width="3" height="2"/>
<rect x="590" y="414" width="3" height="2"/>
<rect x="593" y="405" width="3" height="2"/>
<rect x="594" y="407" width="3" height="2"/>
<rect x="595" y="405" width="3" height="2"/>
<rect x="595" y="398" width="3" height="2"/>
<rect x="596" y="407" width="3" height="2"/>
<rect x="599" y="404" width="3" height="2"/>
<rect x="600" y="395" width="3" height="2"/>
<rect x="600" y="402" width="3" height="2"/>
<rect x="601" y="393" width="3" height="2"/>
<rect x="602" y="396" width="3" height="2"/>
<rect x="605" y="396" width="3" height="2"/>
<rect x="606" y="390" width="3" height="2"/>
<rect x="606" y="392" width="3" height="2"/>
<rect x="607" y="402" width="3" height="2"/>
<rect x="608" y="392" width="3" height="2"/>
<rect x="611" y="392" width="3" height="2"/>
<rect x="611" y="381" width="3" height="2"/>
<rect x="612" y="379" width="3" height="2"/>
<rect x="613" y="377" width="3" height="2"/>
<rect x="614" y="373" width="3" height="2"/>
<rect x="617" y="396" width="3" height="2"/>
<rect x="617" y="367" width="3" height="2"/>
<rect x="618" y="369" width="3" height="2"/>
<rect x="619" y="362" width="3" height="2"/>
<rect x="620" y="370" width="3" height="2"/>
<rect x="622" y="367" width="3" height="2"/>
<rect x="623" y="368" width="3" height="2"/>
<rect x="624" y="356" width="3" height="2"/>
<rect x="625" y="354" width="3" height="2"/>
<rect x="626" y="377" width="3" height="2"/>
<rect x="628" y="363" width="3" height="2"/>
<rect x="629" y="353" width="3" height="2"/>
<rect x="630" y="359" width="3" height="2"/>
<rect x="631" y="361" width="3" height="2"/>
<rect x="632" y="358" width="3" height="2"/>
<rect x="634" y="358" width="3" height="2"/>
<rect x="635" y="379" width="3" height="2"/>
<rect x="636" y="367" width="3" height="2"/>
<rect x="637" y="372" width="3" height="2"/>
<rect x="638" y="389" width="3" height="2"/>
<rect x="640" y="374" width="3" height="2"/>
<rect x="641" y="378" width="3" height="2"/>
<rect x="642" y="376" width="3" height="2"/>
<rect x="643" y="364" width="3" height="2"/>
<rect x="644" y="369" width="3" height="2"/>
<rect x="646" y="372" width="3" height="2"/>
<rect x="647" y="366" width="3" height="2"/>
<rect x="648" y="350" width="3" height="2"/>
<rect x="649" y="342" width="3" height="2"/>
<rect x="650" y="344" width="3" height="2"/>
<rect x="652" y="341" width="3" height="2"/>
<rect x="653" y="353" width="3" height="2"/>
<rect x="654" y="335" width="3" height="2"/>
<rect x="655" y="351" width="3" height="2"/>
<rect x="656" y="352" width="3" height="2"/>
<rect x="658" y="338" width="3" height="2"/>
<rect x="659" y="343" width="3" height="2"/>
<rect x="660" y="334" width="3" height="2"/>
<rect x="661" y="341" width="3" height="2"/>
<rect x="661" y="330" width="3" height="2"/>
<rect x="664" y="349" width="3" height="2"/>
<rect x="665" y="342" width="3" height="2"/>
<rect x="666" y="335" width="3" height="2"/>
<rect x="667" y="359" width="3" height="2"/>
<rect x="667" y="410" width="3" height="2"/>
<rect x="670" y="405" width="3" height="2"/>
<rect x="671" y="413" width="3" height="2"/>
<rect x="672" y="387" width="3" height="2"/>
<rect x="672" y="379" width="3" height="2"/>
<rect x="673" y="378" width="3" height="2"/>
<rect x="676" y="373" width="3" height="2"/>
<rect x="677" y="369" width="3" height="2"/>
<rect x="678" y="363" width="3" height="2"/>
<rect x="678" y="366" width="3" height="2"/>
<rect x="679" y="357" width="3" height="2"/>
<rect x="682" y="352" width="3" height="2"/>
<rect x="683" y="352" width="3" height="2"/>
<rect x="683" y="344" width="3" height="2"/>
<rect x="684" y="345" width="3" height="2"/>
<rect x="685" y="357" width="3" height="2"/>
<rect x="688" y="353" width="3" height="2"/>
<rect x="689" y="360" width="3" height="2"/>
<rect x="689" y="346" width="3" height="2"/>
<rect x="690" y="366" width="3" height="2"/>
<rect x="691" y="363" width="3" height="2"/>
<rect x="694" y="361" width="3" height="2"/>
<rect x="694" y="359" width="3" height="2"/>
<rect x="695" y="360" width="3" height="2"/>
<rect x="696" y="364" width="3" height="2"/>
<rect x="697" y="360" width="3" height="2"/>
<rect x="700" y="357" width="3" height="2"/>
<rect x="700" y="371" width="3" height="2"/>
<rect x="701" y="368" width="3" height="2"/>
<rect x="702" y="356" width="3" height="2"/>
<rect x="703" y="369" width="3" height="2"/>
<rect x="706" y="365" width="3" height="2"/>
<rect x="706" y="355" width="3" height="2"/>
<rect x="707" y="350" width="3" height="2"/>
<rect x="708" y="342" width="3" height="2"/>
<rect x="709" y="343" width="3" height="2"/>
<rect x="711" y="343" width="3" height="2"/>
<rect x="712" y="349" width="3" height="2"/>
<rect x="713" y="355" width="3" height="2"/>
<rect x="714" y="348" width="3" height="2"/>
<rect x="715" y="342" width="3" height="2"/>
<rect x="717" y="344" width="3" height="2"/>
<rect x="718" y="322" width="3" height="2"/>
<rect x="719" y="304" width="3" height="2"/>
<rect x="720" y="310" width="3" height="2"/>
<rect x="721" y="300" width="3" height="2"/>
<rect x="723" y="297" width="3" height="2"/>
<rect x="724" y="289" width="3" height="2"/>
<rect x="725" y="286" width="3" height="2"/>
<rect x="726" y="298" width="3" height="2"/>
<rect x="727" y="291" width="3" height="2"/>
<rect x="729" y="291" width="3" height="2"/>
<rect x="730" y="278" width="3" height="2"/>
<rect x="731" y="278" width="3" height="2"/>
<rect x="732" y="287" width="3" height="2"/>
<rect x="733" y="292" width="3" height="2"/>
<rect x="735" y="300" width="3" height="2"/>
<rect x="736" y="302" width="3" height="2"/>
<rect x="737" y="292" width="3" height="2"/>
<rect x="738" y="294" width="3" height="2"/>
<rect x="739" y="298" width="3" height="2"/>
<rect x="741" y="286" width="3" height="2"/>
<rect x="742" y="298" width="3" height="2"/>
<rect x="743" y="289" width="3" height="2"/>
<rect x="744" y="288" width="3" height="2"/>
<rect x="744" y="285" width="3" height="2"/>
<rect x="747" y="287" width="3" height="2"/>
<rect x="748" y="286" width="3" height="2"/>
<rect x="749" y="277" width="3" height="2"/>
<rect x="750" y="269" width="3" height="2"/>
<rect x="750" y="277" width="3" height="2"/>
<rect x="753" y="267" width="3" height="2"/>
<rect x="754" y="266" width="3" height="2"/>
<rect x="755" y="262" width="3" height="2"/>
<rect x="755" y="272" width="3" height="2"/>
<rect x="756" y="267" width="3" height="2"/>
<rect x="759" y="252" width="3" height="2"/>
<rect x="760" y="247" width="3" height="2"/>
<rect x="761" y="244" width="3" height="2"/>
<rect x="761" y="254" width="3" height="2"/>
<rect x="762" y="252" width="3" height="2"/>
<rect x="765" y="271" width="3" height="2"/>
<rect x="766" y="277" width="3" height="2"/>
<rect x="766" y="280" width="3" height="2"/>
<rect x="767" y="290" width="3" height="2"/>
<rect x="768" y="283" width="3" height="2"/>
<rect x="771" y="277" width="3" height="2"/>
<rect x="772" y="277" width="3" height="2"/>
<rect x="772" y="262" width="3" height="2"/>
<rect x="773" y="258" width="3" height="2"/>
<rect x="774" y="263" width="3" height="2"/>
<rect x="777" y="261" width="3" height="2"/>
<rect x="778" y="267" width="3" height="2"/>
<rect x="778" y="269" width="3" height="2"/>
<rect x="779" y="267" width="3" height="2"/>
<rect x="780" y="267" width="3" height="2"/>
<rect x="783" y="271" width="3" height="2"/>
<rect x="783" y="266" width="3" height="2"/>
<rect x="784" y="256" width="3" height="2"/>
<rect x="785" y="263" width="3" height="2"/>
<rect x="786" y="258" width="3" height="2"/>
<rect x="789" y="258" width="3" height="2"/>
<rect x="789" y="256" width="3" height="2"/>
<rect x="790" y="248" width="3" height="2"/>
<rect x="791" y="245" width="3" height="2"/>
<rect x="792" y="231" width="3" height="2"/>
<rect x="794" y="229" width="3" height="2"/>
<rect x="795" y="224" width="3" height="2"/>
<rect x="796" y="209" width="3" height="2"/>
<rect x="797" y="216" width="3" height="2"/>
<rect x="798" y="220" width="3" height="2"/>
<rect x="800" y="210" width="3" height="2"/>
<rect x="801" y="205" width="3" height="2"/>
<rect x="802" y="195" width="3" height="2"/>
<rect x="803" y="186" width="3" height="2"/>
<rect x="804" y="188" width="3" height="2"/>
<rect x="806" y="190" width="3" height="2"/>
<rect x="807" y="187" width="3" height="2"/>
<rect x="808" y="182" width="3" height="2"/>
<rect x="809" y="179" width="3" height="2"/>
<rect x="810" y="184" width="3" height="2"/>
<rect x="812" y="161" width="3" height="2"/>
<rect x="813" y="153" width="3" height="2"/>
<rect x="814" y="142" width="3" height="2"/>
<rect x="815" y="128" width="3" height="2"/>
<rect x="816" y="129" width="3" height="2"/>
<rect x="818" y="124" width="3" height="2"/>
<rect x="819" y="110" width="3" height="2"/>
<rect x="820" y="107" width="3" height="2"/>
<rect x="821" y="120" width="3" height="2"/>
<rect x="822" y="81" width="3" height="2"/>
<rect x="824" y="83" width="3" height="2"/>
<rect x="825" y="82" width="3" height="2"/>
<rect x="826" y="75" width="3" height="2"/>
<rect x="827" y="46" width="3" height="2"/>
<rect x="827" y="57" width="3" height="2"/>
</g>
<text x="55.5" y="610" font-size="17" text-anchor="end" fill="#000">$19.00</text>
<text x="55.5" y="575" font-size="17" text-anchor="end" fill="#000">$21.00</text>
<text x="55.5" y="539" font-size="17" text-anchor="end" fill="#000">$23.00</text>
<text x="55.5" y="503" font-size="17" text-anchor="end" fill="#000">$25.00</text>
<text x="55.5" y="468" font-size="17" text-anchor="end" fill="#000">$27.00</text>
<text x="55.5" y="432" font-size="17" text-anchor="end" fill="#000">$29.00</text>
<text x="55.5" y="397" font-size="17" text-anchor="end" fill="#000">$31.00</text>
<text x="55.5" y="361" font-size="17" text-anchor="end" fill="#000">$33.00</text>
<text x="55.5" y="326" font-size="17" text-anchor="end" fill="#000">$35.00</text>
<text x="55.5" y="290" font-size="17" text-anchor="end" fill="#000">$37.00</text>
<text x="55.5" y="254" font-size="17" text-anchor="end" fill="#000">$39.00</text>
<text x="55.5" y="219" font-size="17" text-anchor="end" fill="#000">$41.00</text>
<text x="55.5" y="183" font-size="17" text-anchor="end" fill="#000">$43.00</text>
<text x="55.5" y="148" font-size="17" text-anchor="end" fill="#000">$45.00</text>
<text x="55.5" y="112" font-size="17" text-anchor="end" fill="#000">$47.00</text>
<text x="55.5" y="77" font-size="17" text-anchor="end" fill="#000">$49.00</text>
<text x="55.5" y="41" font-size="17" text-anchor="end" fill="#000">$51.00</text>
<text x="73.5" y="634" font-size="17" text-anchor="middle" fill="#000">1-May-23</text>
<text x="229.5" y="634" font-size="17" text-anchor="middle" fill="#000">1-Nov-23</text>
<text x="383.5" y="634" font-size="17" text-anchor="middle" fill="#000">1-May-24</text>
<text x="539.5" y="634" font-size="17" text-anchor="middle" fill="#000">1-Nov-24</text>
<text x="692.5" y="634" font-size="17" text-anchor="middle" fill="#000">1-May-25</text>
<text x="847.5" y="634" font-size="17" text-anchor="middle" fill="#000">1-Nov-25</text>
<text x="455" y="60.7" font-size="27" text-anchor="middle" fill="#000">Silver</text>
<text x="326.5" y="122.8" font-size="20" letter-spacing="0.5" fill="#7030a0">The gray reaper</text>
</svg></body></html>
